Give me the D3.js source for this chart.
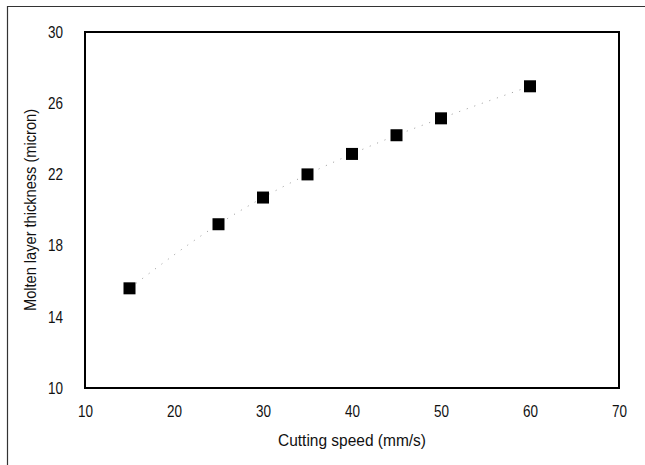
<!DOCTYPE html>
<html><head><meta charset="utf-8">
<script src="https://cdn.jsdelivr.net/npm/d3@7/dist/d3.min.js"></script>
<style>
body{margin:0;background:#fff;}
svg text{font-family:"Liberation Sans Narrow","Arial Narrow","Liberation Sans",sans-serif;fill:#111;}
</style></head>
<body><svg id="c" width="645" height="465"></svg>
<script>
const speeds = [15, 25, 30, 35, 40, 45, 50, 60];
const thickness = [15.6, 19.2, 20.7, 22.0, 23.15, 24.2, 25.15, 26.95];
const xTicks = [10, 20, 30, 40, 50, 60, 70];
const yTicks = [10, 14, 18, 22, 26, 30];
const xTitle = "Cutting speed (mm/s)";
const yTitle = "Molten layer thickness (micron)";

const svg = d3.select("#c");
const L = 85, R = 619, T = 32, B = 388;
const x = d3.scaleLinear().domain([10, 70]).range([L, R]);
const y = d3.scaleLinear().domain([10, 30]).range([B, T]);

// outer frame
svg.append("path").attr("d", "M7.5,465 V6.5 H645").attr("fill", "none").attr("stroke", "#333").attr("stroke-width", 1.2);

// axes
const xa = svg.append("g").attr("transform", `translate(0,${B})`)
  .call(d3.axisBottom(x).tickValues(xTicks).tickSize(0).tickPadding(17).tickFormat(d3.format("d")));
const ya = svg.append("g").attr("transform", `translate(${L},0)`)
  .call(d3.axisLeft(y).tickValues(yTicks).tickSize(0).tickPadding(22).tickFormat(d3.format("d")));
[xa, ya].forEach(g => {
  g.select(".domain").remove();
  g.selectAll("text").attr("font-size", 16.5).attr("font-family", null)
    .attr("textLength", 15).attr("lengthAdjust", "spacingAndGlyphs");
});

// plot frame
svg.append("rect").attr("x", L).attr("y", T).attr("width", R - L).attr("height", B - T)
  .attr("fill", "none").attr("stroke", "#000").attr("stroke-width", 2);

// dotted trend line
const line = d3.line().x((d, i) => x(speeds[i])).y(d => y(d)).curve(d3.curveMonotoneX);
svg.append("path").datum(thickness).attr("d", line).attr("fill", "none")
  .attr("stroke", "#999").attr("stroke-width", 1).attr("stroke-dasharray", "1,7");

// markers
const s = 12;
svg.selectAll("rect.pt").data(thickness).enter().append("rect").attr("class", "pt")
  .attr("x", (d, i) => x(speeds[i]) - s / 2).attr("y", d => y(d) - s / 2)
  .attr("width", s).attr("height", s).attr("fill", "#000");

// titles
svg.append("text").attr("x", (L + R) / 2).attr("y", 446).attr("text-anchor", "middle")
  .attr("font-size", 16).attr("textLength", 148).attr("lengthAdjust", "spacingAndGlyphs").text(xTitle);
svg.append("text").attr("transform", `translate(36,${(T + B) / 2}) rotate(-90)`).attr("text-anchor", "middle")
  .attr("font-size", 16).attr("textLength", 202).attr("lengthAdjust", "spacingAndGlyphs").text(yTitle);
</script></body></html>
